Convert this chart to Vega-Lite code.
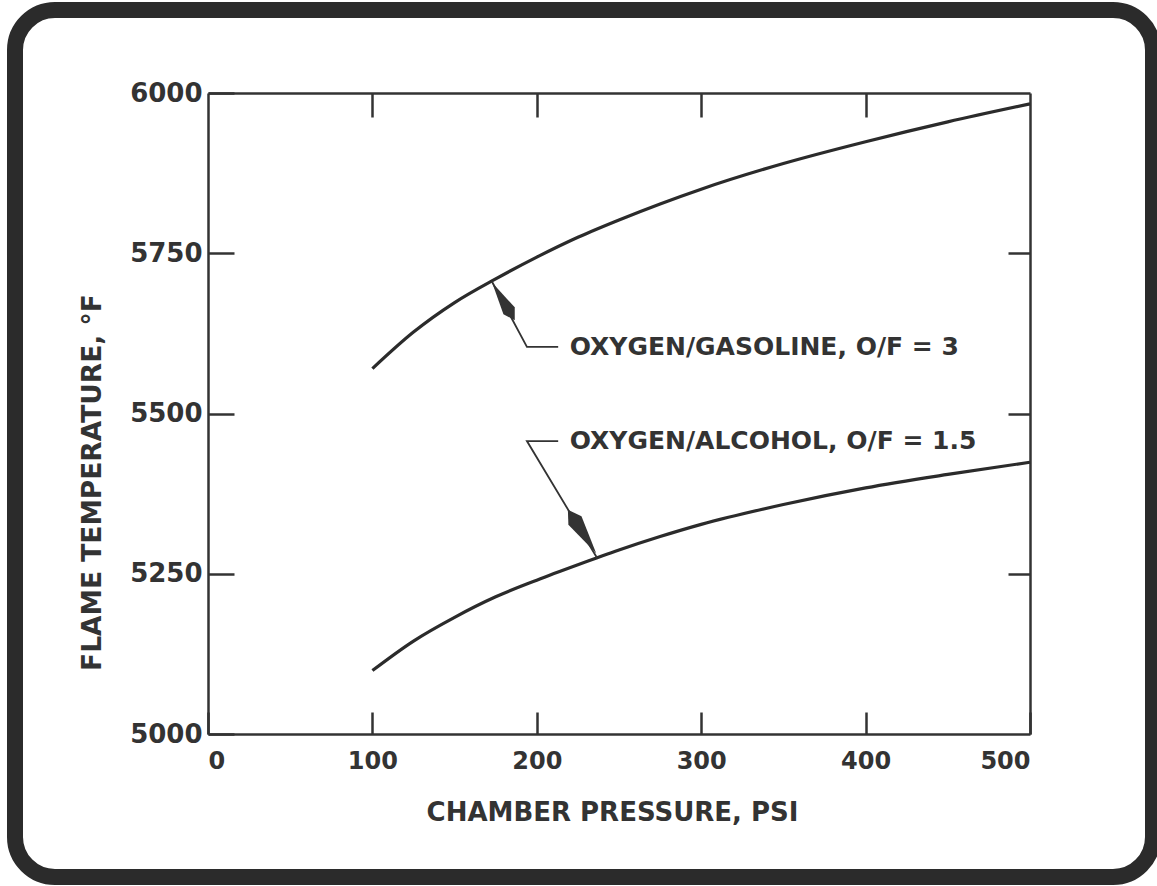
{
  "$schema": "https://vega.github.io/schema/vega-lite/v6.json",
  "width": 1138,
  "height": 867,
  "autosize": {"type": "none"},
  "padding": {"left": 15, "top": 10, "right": 4, "bottom": 9},
  "background": "white",
  "config": {
    "view": {"stroke": "#2b2b2b", "strokeWidth": 16, "cornerRadius": 40, "fill": "white"},
    "axis": {"grid": false, "domainColor": "#333333", "domainWidth": 2.5, "tickColor": "#333333", "tickWidth": 2.5, "labelFont": "DejaVu Sans", "labelFontWeight": "bold", "labelColor": "#333333", "titleFont": "DejaVu Sans", "titleFontWeight": "bold", "titleColor": "#333333"}
  },
  "datasets": {
    "curves": [
      {"series": "gasoline", "psi": 100, "temp": 5570},
      {"series": "gasoline", "psi": 125, "temp": 5627},
      {"series": "gasoline", "psi": 150, "temp": 5673},
      {"series": "gasoline", "psi": 175, "temp": 5710},
      {"series": "gasoline", "psi": 200, "temp": 5744},
      {"series": "gasoline", "psi": 225, "temp": 5775},
      {"series": "gasoline", "psi": 250, "temp": 5802},
      {"series": "gasoline", "psi": 275, "temp": 5827},
      {"series": "gasoline", "psi": 300, "temp": 5850},
      {"series": "gasoline", "psi": 350, "temp": 5890},
      {"series": "gasoline", "psi": 400, "temp": 5924},
      {"series": "gasoline", "psi": 450, "temp": 5955},
      {"series": "gasoline", "psi": 500, "temp": 5983},
      {"series": "alcohol", "psi": 100, "temp": 5099},
      {"series": "alcohol", "psi": 125, "temp": 5145},
      {"series": "alcohol", "psi": 150, "temp": 5182},
      {"series": "alcohol", "psi": 175, "temp": 5214},
      {"series": "alcohol", "psi": 200, "temp": 5240},
      {"series": "alcohol", "psi": 225, "temp": 5264},
      {"series": "alcohol", "psi": 250, "temp": 5287},
      {"series": "alcohol", "psi": 275, "temp": 5308},
      {"series": "alcohol", "psi": 300, "temp": 5327},
      {"series": "alcohol", "psi": 350, "temp": 5358},
      {"series": "alcohol", "psi": 400, "temp": 5384},
      {"series": "alcohol", "psi": 450, "temp": 5405},
      {"series": "alcohol", "psi": 500, "temp": 5424}
    ],
    "leaders": [
      {"label": "gasoline", "seq": 1, "psi": 172.7, "temp": 5706},
      {"label": "gasoline", "seq": 2, "psi": 194, "temp": 5604},
      {"label": "gasoline", "seq": 3, "psi": 213, "temp": 5604},
      {"label": "alcohol", "seq": 1, "psi": 236.6, "temp": 5275},
      {"label": "alcohol", "seq": 2, "psi": 194, "temp": 5457},
      {"label": "alcohol", "seq": 3, "psi": 213, "temp": 5457}
    ],
    "labels": [
      {"label": "OXYGEN/GASOLINE, O/F = 3", "psi": 220, "temp": 5604},
      {"label": "OXYGEN/ALCOHOL, O/F = 1.5", "psi": 220, "temp": 5457}
    ],
    "arrowGas": [{"psi": 179.7, "temp": 5675}],
    "arrowAlc": [{"psi": 227.5, "temp": 5316}]
  },
  "resolve": {"axis": {"x": "independent", "y": "independent"}},
  "layer": [
    {
      "data": {"name": "curves"},
      "mark": {"type": "line", "color": "#2b2b2b", "strokeWidth": 3.2, "interpolate": "monotone"},
      "encoding": {
        "x": {"field": "psi", "type": "quantitative",
          "scale": {"domain": [0, 500], "range": [193, 1015], "nice": false, "zero": false},
          "axis": {"orient": "bottom", "offset": -143, "values": [0, 100, 200, 300, 400, 500], "format": "d", "tickSize": -22, "labelPadding": 37, "labelFontSize": 24, "labelDx": 5, "labelBaseline": "top",
            "title": "CHAMBER PRESSURE, PSI", "titleFontSize": 26, "titleX": 597, "titleY": 78, "titleBaseline": "middle", "titleAnchor": "start", "titleAlign": "center"}},
        "y": {"field": "temp", "type": "quantitative",
          "scale": {"domain": [5000, 6000], "range": [724, 83], "nice": false, "zero": false},
          "axis": {"orient": "left", "offset": -193, "values": [5000, 5250, 5500, 5750, 6000], "format": "d", "tickSize": -26, "labelPadding": 32, "labelFontSize": 26, "labelDy": 3,
            "title": "FLAME TEMPERATURE, °F", "titleFontSize": 26.5, "titleX": -116, "titleY": 472, "titleAngle": 270, "titleBaseline": "middle", "titleAlign": "center", "titleAnchor": "start"}},
        "detail": {"field": "series"}
      }
    },
    {
      "data": {"name": "leaders"},
      "mark": {"type": "line", "color": "#333333", "strokeWidth": 1.8},
      "encoding": {
        "x": {"field": "psi", "type": "quantitative",
          "axis": {"orient": "top", "offset": -83, "values": [100, 200, 300, 400], "tickSize": -24, "labels": false, "title": null}},
        "y": {"field": "temp", "type": "quantitative",
          "axis": {"orient": "right", "offset": -123, "values": [5250, 5500, 5750], "tickSize": -22, "labels": false, "title": null}},
        "detail": {"field": "label"},
        "order": {"field": "seq"}
      }
    },
    {
      "data": {"name": "arrowGas"},
      "mark": {"type": "point", "shape": "M0,-1L0.3,0.5L0,1L-0.3,0.5Z", "filled": true, "color": "#333333", "opacity": 1, "size": 1936, "angle": -31},
      "encoding": {
        "x": {"field": "psi", "type": "quantitative", "axis": null},
        "y": {"field": "temp", "type": "quantitative", "axis": null}
      }
    },
    {
      "data": {"name": "arrowAlc"},
      "mark": {"type": "point", "shape": "M0,-1L0.3,0.5L0,1L-0.3,0.5Z", "filled": true, "color": "#333333", "opacity": 1, "size": 2700, "angle": 147},
      "encoding": {
        "x": {"field": "psi", "type": "quantitative", "axis": null},
        "y": {"field": "temp", "type": "quantitative", "axis": null}
      }
    },
    {
      "data": {"name": "labels"},
      "mark": {"type": "text", "align": "left", "baseline": "middle", "font": "DejaVu Sans", "fontWeight": "bold", "fontSize": 25, "color": "#333333"},
      "encoding": {
        "x": {"field": "psi", "type": "quantitative", "axis": null},
        "y": {"field": "temp", "type": "quantitative", "axis": null},
        "text": {"field": "label"}
      }
    }
  ]
}
